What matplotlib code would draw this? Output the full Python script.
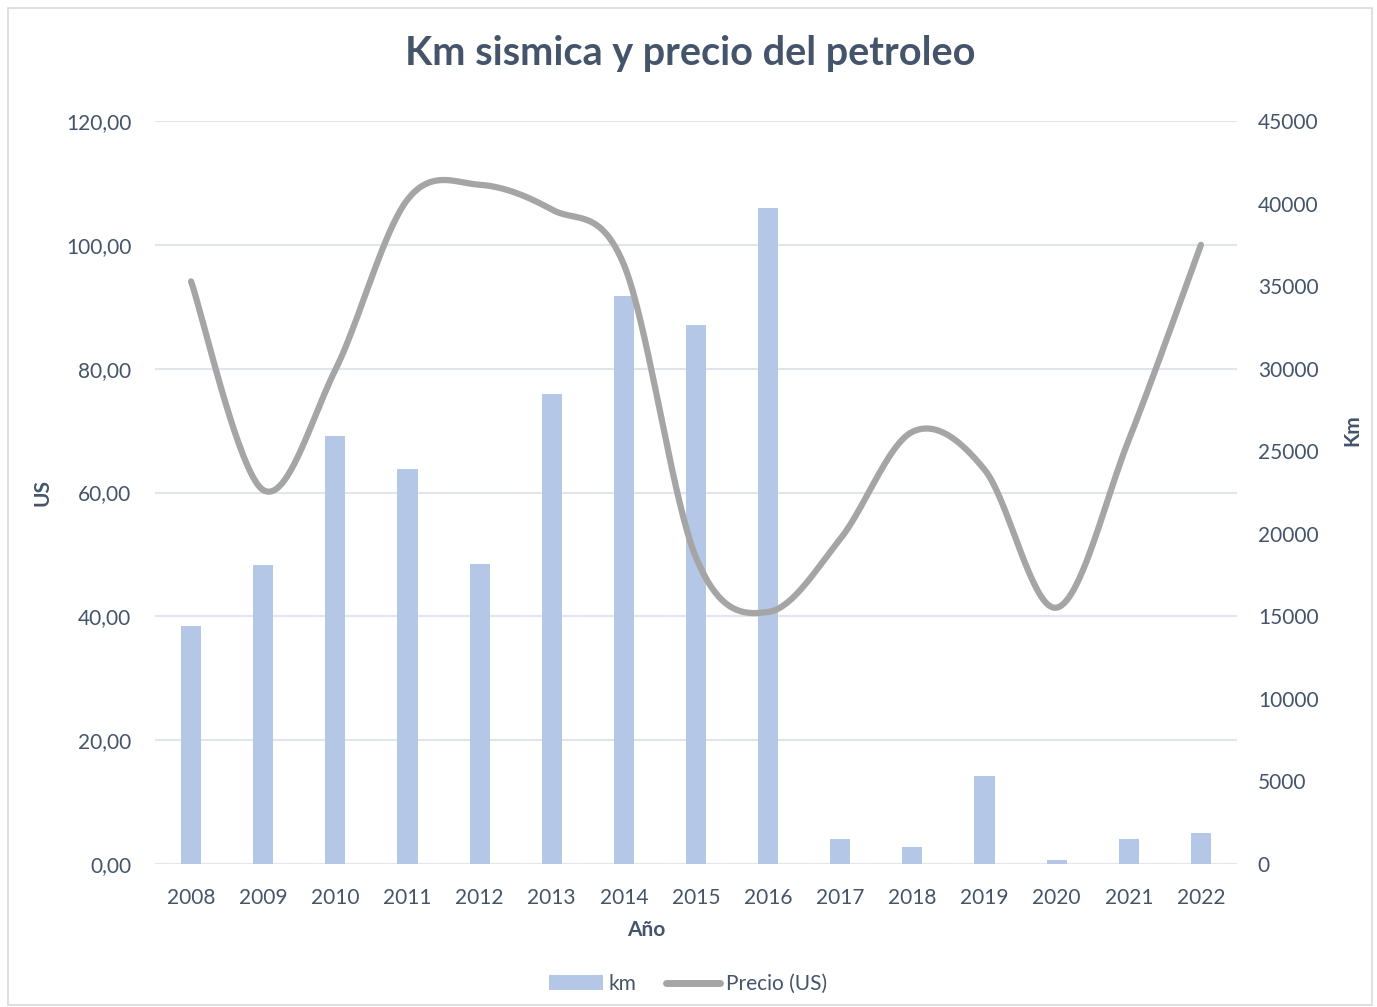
import numpy as np
import matplotlib
matplotlib.use("Agg")
import matplotlib.pyplot as plt
from matplotlib.patches import Patch, Rectangle
from matplotlib.lines import Line2D
from matplotlib.ticker import FuncFormatter, MultipleLocator

years = ["2008", "2009", "2010", "2011", "2012", "2013", "2014", "2015",
         "2016", "2017", "2018", "2019", "2020", "2021", "2022"]
km = [14400, 18100, 25900, 23900, 18150, 28450, 34400, 32650,
      39750, 1500, 1050, 5300, 250, 1500, 1900]
precio = [94.1, 60.4, 79.8, 107.3, 109.7, 105.7, 96.8, 49.5,
          40.7, 52.5, 69.8, 63.7, 41.4, 68.5, 100.0]

TXT = "#44546A"
GRID = "#E1E5EC"
BAR = "#B4C7E7"
LINE = "#A5A5A5"
plt.rcParams["font.family"] = ["Lato", "DejaVu Sans"]

fig = plt.figure(figsize=(13.77, 10.07), dpi=100)
fig.patches.append(Rectangle((8 / 1377, 2 / 1007), 1364 / 1377, 997 / 1007,
                             transform=fig.transFigure, fill=False,
                             edgecolor="#D9D9D9", linewidth=1.2))
pos = [155 / 1377, (1007 - 864) / 1007, (1237 - 155) / 1377, (864 - 121) / 1007]
ax = fig.add_axes(pos)
ax2 = ax.twinx()
ax3 = ax.twinx()

x = np.arange(len(years))

# left axis: grid and ticks
ax.set_ylim(0, 120)
ax.yaxis.set_major_locator(MultipleLocator(20))
ax.yaxis.set_major_formatter(FuncFormatter(lambda v, p: f"{v:.2f}".replace(".", ",")))
ax.grid(axis="y", color=GRID, linewidth=1.5)
ax.set_axisbelow(True)
ax.set_xlim(-0.5, len(years) - 0.5)
ax.set_xticks(x)
ax.set_xticklabels(years)
ax.tick_params(axis="both", length=0, labelsize=15, colors=TXT)
ax.tick_params(axis="y", pad=17)
ax.tick_params(axis="x", pad=17)
for s in ax.spines.values():
    s.set_visible(False)

# right axis: bars
ax2.bar(x, km, width=0.28, color=BAR, zorder=2)
ax2.set_ylim(0, 45000)
ax2.yaxis.set_major_locator(MultipleLocator(5000))
ax2.tick_params(axis="y", length=0, labelsize=15, colors=TXT, pad=15)
for s in ax2.spines.values():
    s.set_visible(False)

# smoothed line (Excel-like bezier smoothing)
px = x.astype(float)
py = np.array(precio, dtype=float)
xs, ys = [], []
n = len(px)
t = np.linspace(0, 1, 40)
for i in range(n - 1):
    p0 = np.array([px[max(i - 1, 0)], py[max(i - 1, 0)]])
    p1 = np.array([px[i], py[i]])
    p2 = np.array([px[i + 1], py[i + 1]])
    p3 = np.array([px[min(i + 2, n - 1)], py[min(i + 2, n - 1)]])
    c1 = p1 + (p2 - p0) / 6
    c2 = p2 - (p3 - p1) / 6
    b = ((1 - t) ** 3)[:, None] * p1 + (3 * (1 - t) ** 2 * t)[:, None] * c1 + \
        (3 * (1 - t) * t ** 2)[:, None] * c2 + (t ** 3)[:, None] * p2
    xs.extend(b[:, 0]); ys.extend(b[:, 1])
ax3.plot(xs, ys, color=LINE, linewidth=4.5, solid_capstyle="round")
ax3.set_ylim(0, 120)
ax3.set_yticks([])
for s in ax3.spines.values():
    s.set_visible(False)

fig.text(690 / 1377, 1 - 54 / 1007, "Km sismica y precio del petroleo",
         ha="center", va="center", fontsize=28.5, fontweight="bold", color=TXT)
fig.text(42 / 1377, 1 - 492 / 1007, "US", rotation=90, ha="center", va="center",
         fontsize=15, fontweight="bold", color=TXT)
fig.text(1352 / 1377, 1 - 430 / 1007, "Km", rotation=90, ha="center", va="center",
         fontsize=15, fontweight="bold", color=TXT)
fig.text(646 / 1377, 1 - 930 / 1007, "Año", ha="center", va="center",
         fontsize=15, fontweight="bold", color=TXT)

handles = [Patch(facecolor=BAR, edgecolor="none"),
           Line2D([0], [0], color=LINE, linewidth=5, solid_capstyle="round")]
fig.legend(handles, ["km", "Precio (US)"], loc="center",
           bbox_to_anchor=(688 / 1377, 1 - 984 / 1007), ncol=2, frameon=False,
           fontsize=15, labelcolor=TXT, handlelength=2.6, handletextpad=0.3,
           columnspacing=1.4)

fig.savefig("out.png", dpi=100)
